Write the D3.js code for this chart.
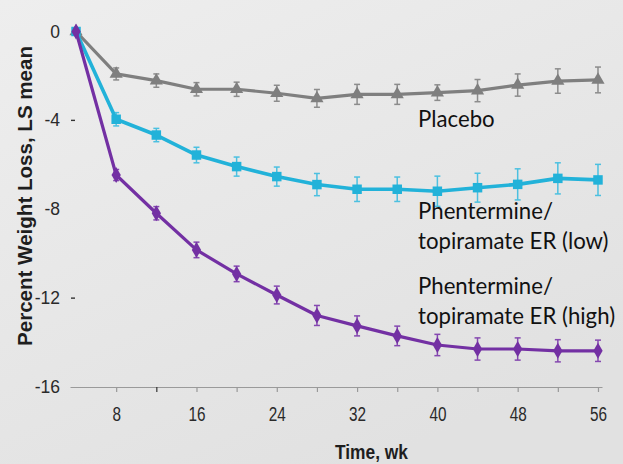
<!DOCTYPE html>
<html>
<head>
<meta charset="utf-8">
<script src="https://cdn.jsdelivr.net/npm/d3@7"></script>
<style>
  html, body { margin: 0; padding: 0; background: #e6e6e6; }
  svg { display: block; }
  .arial { font-family: "Liberation Sans", Arimo, Arial, sans-serif; }
  .label { font-family: Lato, "Open Sans", sans-serif; }
</style>
</head>
<body>
<svg id="chart" width="623" height="464"></svg>
<script>
// Study weeks at which weight change was assessed
const weeks = [4, 8, 12, 16, 20, 24, 28, 32, 36, 40, 44, 48, 52, 56];

// Least-squares mean percent weight change from baseline
const placebo  = [0, -1.91, -2.21, -2.60, -2.60, -2.78, -3.01, -2.83, -2.83, -2.75, -2.66, -2.41, -2.23, -2.18];
const lowDose  = [0, -3.95, -4.66, -5.56, -6.08, -6.53, -6.89, -7.10, -7.10, -7.19, -7.03, -6.88, -6.61, -6.68];
const highDose = [0, -6.46, -8.18, -9.83, -10.91, -11.86, -12.78, -13.25, -13.70, -14.11, -14.29, -14.29, -14.37, -14.37];

// Error bar half-widths (percentage points)
const placeboErr  = [0, 0.27, 0.30, 0.30, 0.32, 0.36, 0.40, 0.45, 0.45, 0.35, 0.50, 0.50, 0.55, 0.58];
const lowDoseErr  = [0, 0.30, 0.30, 0.35, 0.43, 0.43, 0.50, 0.55, 0.55, 0.68, 0.65, 0.70, 0.70, 0.70];
const highDoseErr = [0, 0.25, 0.30, 0.35, 0.35, 0.40, 0.45, 0.45, 0.44, 0.48, 0.50, 0.50, 0.50, 0.48];

// Axis ticks and labels
const xTicks = [8, 12, 16, 20, 24, 28, 32, 36, 40, 44, 48, 52, 56];
const xLabelTicks = [8, 16, 24, 32, 40, 48, 56];
const yTicks = [0, -4, -8, -12, -16];
const yDashTicks = [-4, -12];

const seriesNames = ["Placebo", "Phentermine/\ntopiramate ER (low)", "Phentermine/\ntopiramate ER (high)"];

const svg = d3.select("#chart");

// Soft grey backdrop
const defs = svg.append("defs");
const grad = defs.append("linearGradient").attr("id", "bg")
  .attr("x1", "0").attr("y1", "0").attr("x2", "0.6").attr("y2", "1");
grad.append("stop").attr("offset", "0").attr("stop-color", "#eeeeee");
grad.append("stop").attr("offset", "1").attr("stop-color", "#e1e1e1");
svg.append("rect").attr("width", 623).attr("height", 464).attr("fill", "url(#bg)");

const x = d3.scaleLinear().domain([3.4, 56.4]).range([70, 602]);
const y = d3.scaleLinear().domain([0, -16]).range([31.5, 387]);

// X axis
const xAxis = svg.append("g")
  .attr("transform", `translate(0,${y(-16)})`)
  .call(d3.axisBottom(x).tickValues(xTicks).tickSize(5).tickSizeOuter(0)
    .tickFormat(d => xLabelTicks.includes(d) ? String(d) : ""));
xAxis.attr("font-family", null);
xAxis.select(".domain").attr("stroke", "#9a9a9a").attr("stroke-width", 1.2);
xAxis.selectAll(".tick line").attr("stroke", d => d === 12 ? "#333" : "#999").attr("stroke-width", 1.2);
xAxis.selectAll(".tick text")
  .attr("class", "arial")
  .attr("fill", "#2a2a2a")
  .attr("font-size", 17)
  .attr("y", 28)
  .attr("dy", 0)
  .attr("transform", "scale(0.9,1.2)");

// Y axis labels (plain hyphen for the minus sign)
const yAxis = svg.append("g")
  .attr("transform", "translate(63,0)")
  .call(d3.axisLeft(y).tickValues(yTicks).tickSize(0).tickPadding(3).tickFormat(d => String(d)));
yAxis.attr("font-family", null);
yAxis.select(".domain").remove();
yAxis.selectAll(".tick text")
  .attr("class", "arial")
  .attr("fill", "#2a2a2a")
  .attr("font-size", 17.5);

svg.append("g").selectAll("line").data(yDashTicks).join("line")
  .attr("x1", 71).attr("x2", 75)
  .attr("y1", d => y(d)).attr("y2", d => y(d))
  .attr("stroke", "#333").attr("stroke-width", 1.4);

// Axis titles
svg.append("text")
  .attr("class", "arial")
  .attr("transform", "translate(32,196) rotate(-90)")
  .attr("text-anchor", "middle")
  .attr("font-weight", "bold")
  .attr("font-size", 20.5)
  .attr("textLength", 300)
  .attr("lengthAdjust", "spacingAndGlyphs")
  .attr("fill", "#1e1e1e")
  .text("Percent Weight Loss, LS mean");

svg.append("text")
  .attr("class", "arial")
  .attr("x", 335).attr("y", 459)
  .attr("font-weight", "bold")
  .attr("font-size", 20)
  .attr("textLength", 73)
  .attr("lengthAdjust", "spacingAndGlyphs")
  .attr("fill", "#1e1e1e")
  .text("Time, wk");

// Series
const series = [
  { values: placebo,  err: placeboErr,  color: "#7f7f7f", errColor: "#8c8c8c", symbol: d3.symbolTriangle, size: 75,  width: 3.2 },
  { values: lowDose,  err: lowDoseErr,  color: "#22b2d9", errColor: "#4cc0e0", symbol: d3.symbolSquare,   size: 90,  width: 3.6 },
  { values: highDose, err: highDoseErr, color: "#7330a3", errColor: "#8548b0", symbol: d3.symbolDiamond,  size: 75,  width: 3.2 }
];

const line = d3.line().x((d, i) => x(weeks[i])).y(d => y(d));

series.forEach(s => {
  const g = svg.append("g");
  const pts = weeks.map((w, i) => ({ w, v: s.values[i], e: s.err[i] })).filter(p => p.e > 0);

  // error bars
  g.selectAll(".eb").data(pts).join("line")
    .attr("x1", d => x(d.w)).attr("x2", d => x(d.w))
    .attr("y1", d => y(d.v + d.e)).attr("y2", d => y(d.v - d.e))
    .attr("stroke", s.errColor).attr("stroke-width", 1.5);
  ["top", "bottom"].forEach(side => {
    g.selectAll(".cap-" + side).data(pts).join("line")
      .attr("x1", d => x(d.w) - 3).attr("x2", d => x(d.w) + 3)
      .attr("y1", d => y(side === "top" ? d.v + d.e : d.v - d.e))
      .attr("y2", d => y(side === "top" ? d.v + d.e : d.v - d.e))
      .attr("stroke", s.errColor).attr("stroke-width", 1.5);
  });

  g.append("path").datum(s.values)
    .attr("d", line)
    .attr("fill", "none")
    .attr("stroke", s.color)
    .attr("stroke-width", s.width)
    .attr("stroke-linejoin", "round");

  g.selectAll(".mk").data(s.values).join("path")
    .attr("transform", (d, i) => `translate(${x(weeks[i])},${y(d)})`)
    .attr("d", d3.symbol().type(s.symbol).size(s.size))
    .attr("fill", s.color);
});

// Series labels
const labelY = [126.7, 219.3, 294];
seriesNames.forEach((name, k) => {
  const t = svg.append("text")
    .attr("class", "label")
    .attr("x", 418).attr("y", labelY[k])
    .attr("font-size", 22.2)
    .attr("fill", "#111");
  name.split("\n").forEach((ln, j) => {
    t.append("tspan").attr("x", 418).attr("dy", j === 0 ? 0 : 29.8).text(ln);
  });
});
</script>
</body>
</html>
